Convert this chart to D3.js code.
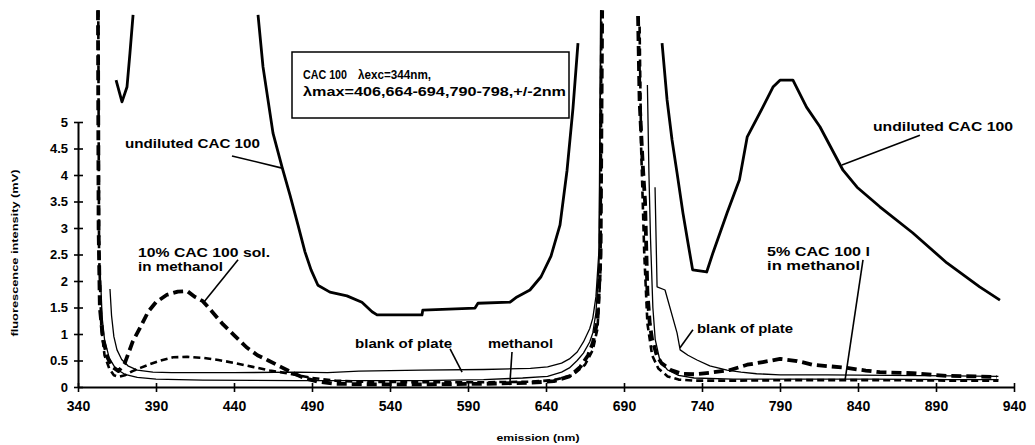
<!DOCTYPE html>
<html><head><meta charset="utf-8">
<script src="https://cdn.jsdelivr.net/npm/d3@7"></script>
<style>
html,body{margin:0;padding:0;background:#fff;}
svg{display:block;font-family:"Liberation Sans",Arial,sans-serif;font-weight:bold;}
</style></head><body>
<svg id="chart" width="1035" height="445"></svg>
<script>
// Axis ticks
const xTicks = [340, 390, 440, 490, 540, 590, 640, 690, 740, 790, 840, 890, 940];
const yTicks = [0, 0.5, 1, 1.5, 2, 2.5, 3, 3.5, 4, 4.5, 5];

// Emission spectra (wavelength nm / intensity mV); null breaks the trace
// (off-scale stretch or the gap around the second-order excitation line)
const undilutedNm = [364.4, 368.2, 371.4, 373.3, 375.3, null,
  455.4, 458.6, 465, 470.8, 475.9, 481, 485.5, 489.4, 493.8, 501.5, 512.4, 522, 528.5, 531.7,
  560.5, 561, 594.5, 596.4, 617, 621.4, 629.7, 636.8, 643.2, 649, 653.5, 657.3, 660.5, null,
  714.4, 717.6, 720.8, 724, 727.8, 731, 734, 743, 747, 756, 764, 769, 779, 785.5, 790, 798.3,
  807, 815.6, 830.4, 839.4, 854, 875, 897, 918, 931];
const undilutedMv = [5.79, 5.38, 5.66, 6.30, 7.02, null,
  7.02, 6.04, 4.79, 4.15, 3.62, 3.06, 2.55, 2.21, 1.92, 1.79, 1.72, 1.60, 1.42, 1.36,
  1.36, 1.45, 1.49, 1.58, 1.60, 1.70, 1.83, 2.08, 2.47, 3.06, 4.09, 5.26, 6.49, null,
  6.49, 5.42, 4.66, 4.04, 3.28, 2.72, 2.21, 2.17, 2.53, 3.28, 3.91, 4.72, 5.28, 5.66, 5.79, 5.79,
  5.28, 4.91, 4.09, 3.77, 3.40, 2.91, 2.34, 1.89, 1.64];

const sol10Nm = [352.8, 353.2, 354, 356, 359, 362, 366, 370, 375, 380, 385, 390, 397, 404, 410,
  415, 420, 426, 433, 440, 448, 455, 462, 470, 478, 486, 494, 505, 530, 560, 600, 630, 645, 655,
  662, 667, 670, 673, 675, 676, null,
  699, 700, 702, 703.5, 705, 706.5, 708, 711, 714, 720, 727, 735, 745, 758, 769, 779, 790, 801,
  811, 822, 833, 845, 854, 875, 897, 915, 929];
const sol10Mv = [7.11, 3.0, 1.5, 0.9, 0.55, 0.38, 0.30, 0.45, 0.85, 1.13, 1.42, 1.60, 1.74, 1.80, 1.81,
  1.70, 1.62, 1.42, 1.18, 0.98, 0.75, 0.60, 0.50, 0.38, 0.26, 0.16, 0.10, 0.06, 0.05, 0.05, 0.06, 0.08, 0.11, 0.20,
  0.38, 0.60, 0.83, 1.26, 2.5, 7.11, null,
  7.0, 5.4, 4.2, 3.5, 1.8, 1.2, 0.9, 0.6, 0.45, 0.32, 0.25, 0.24, 0.27, 0.32, 0.42, 0.47, 0.53, 0.49,
  0.42, 0.39, 0.36, 0.31, 0.28, 0.26, 0.21, 0.20, 0.19];

const sol5Nm = [353, 353.5, 355, 357, 360, 363, 366, 370, 375, 380, 386, 393, 401, 410, 420, 430,
  441, 452, 463, 476, 490, 505, 520, 560, 600, 630, 645, 657, 665, 670, 673, 675, 675.5, null,
  700, 701, 703, 705, 708, 712, 718, 725, 735, 760, 800, 850, 900, 930];
const sol5Mv = [7.11, 2.5, 1.1, 0.6, 0.35, 0.22, 0.19, 0.22, 0.30, 0.36, 0.43, 0.50, 0.56, 0.57, 0.55, 0.51,
  0.45, 0.38, 0.31, 0.25, 0.17, 0.12, 0.10, 0.09, 0.09, 0.10, 0.13, 0.22, 0.42, 0.70, 1.1, 2.2, 7.11, null,
  6.8, 4.5, 2.5, 1.2, 0.6, 0.35, 0.20, 0.14, 0.12, 0.12, 0.13, 0.13, 0.12, 0.12];

const blankNm = [360.5, 361.5, 363, 365, 368, 372, 378, 388, 400, 440, 480, 500, 520, 560, 600, 630,
  641, 650, 655, 660, 664, 668, 670, 672, 674, 675, null,
  709.9, 711.2, 716.3, 724, 726, 731, 736.8, 745, 756, 765, 775, 790, 820, 860, 900, 930];
const blankMv = [1.85, 1.35, 0.95, 0.70, 0.52, 0.40, 0.32, 0.28, 0.27, 0.27, 0.28, 0.27, 0.30, 0.32, 0.33, 0.35,
  0.38, 0.45, 0.53, 0.66, 0.85, 1.1, 1.3, 1.7, 2.6, 7.11, null,
  3.77, 1.89, 1.83, 1.02, 0.70, 0.60, 0.51, 0.40, 0.32, 0.28, 0.25, 0.23, 0.23, 0.22, 0.21, 0.20];

const methanolNm = [354.5, 355.5, 357, 360, 364, 370, 378, 390, 420, 480, 520, 560, 600, 625, 641,
  650, 655, 660, 664, 668, 670, 672, 674, 675.3, null,
  705, 706, 707, 708.5, 710, 713, 718, 725, 735, 760, 800, 850, 900, 930];
const methanolMv = [2.0, 1.3, 0.9, 0.55, 0.35, 0.24, 0.18, 0.15, 0.13, 0.12, 0.12, 0.12, 0.14, 0.17, 0.20,
  0.28, 0.36, 0.50, 0.64, 0.85, 1.02, 1.4, 2.3, 7.11, null,
  5.7, 4.0, 2.8, 1.5, 0.9, 0.5, 0.32, 0.22, 0.17, 0.15, 0.15, 0.15, 0.14, 0.14];

const series = [
  {nm: methanolNm, mv: methanolMv, width: 1.3, dash: null},
  {nm: blankNm, mv: blankMv, width: 1.3, dash: null},
  {nm: sol5Nm, mv: sol5Mv, width: 2.6, dash: "7,4"},
  {nm: sol10Nm, mv: sol10Mv, width: 3.8, dash: "10,5"},
  {nm: undilutedNm, mv: undilutedMv, width: 2.8, dash: null}
];

// Callout labels: text lines anchored at (nm, mV), leader from -> to in data units
const callouts = [
  {lines: ["undiluted CAC 100"], at: [370.1, 4.51], len: [135], from: [438.7, 4.36], to: [470.8, 4.13]},
  {lines: ["10% CAC 100 sol.", "in methanol"], at: [378.5, 2.45], len: [132, 85], from: [442.6, 2.40], to: [420.1, 1.58]},
  {lines: ["blank of plate"], at: [517.6, 0.74], len: [97], from: [578.5, 0.72], to: [586.2, 0.28]},
  {lines: ["methanol"], at: [602.8, 0.74], len: [65], from: [618.2, 0.66], to: [616.9, 0.09]},
  {lines: ["undiluted CAC  100"], at: [849.6, 4.83], len: [140], from: [879.7, 4.75], to: [829.7, 4.19]},
  {lines: ["5% CAC 100 l", "in methanol"], at: [781.7, 2.47], len: [103, 93], from: [843.2, 2.40], to: [831.7, 0.13]},
  {lines: ["blank of plate"], at: [736.8, 1.02], len: [96], from: [734.2, 1.08], to: [725.9, 0.74]}
];

const boxLine1 = ["CAC 100", "λexc=344nm,"];
const boxLine2 = "λmax=406,664-694,790-798,+/-2nm";

const svg = d3.select("#chart");
const x = d3.scaleLinear().domain([340, 940]).range([78, 1014]);
const y = d3.scaleLinear().domain([0, 5]).range([387, 122]);

// Axes
const xAxis = svg.append("g").attr("transform", `translate(0,${y(0)})`)
  .call(d3.axisBottom(x).tickValues(xTicks).tickFormat(d3.format("d")).tickSizeInner(5).tickSizeOuter(0));
xAxis.select(".domain").attr("stroke", "#000").attr("stroke-width", 2);
xAxis.selectAll(".tick line").attr("y1", -4).attr("y2", 5).attr("stroke-width", 1.6);
xAxis.selectAll(".tick text").attr("y", 14).attr("dy", "0.71em")
  .attr("font-size", 14).attr("font-weight", "bold").attr("font-family", "Liberation Sans, Arial, sans-serif").attr("fill", "#000");

const yAxis = svg.append("g").attr("transform", `translate(${x(340)},0)`)
  .call(d3.axisLeft(y).tickValues(yTicks).tickFormat(d3.format("")).tickSizeInner(5).tickSizeOuter(0));
yAxis.select(".domain").attr("stroke", "#000").attr("stroke-width", 2);
yAxis.selectAll(".tick line").attr("x1", -4).attr("x2", 5).attr("stroke-width", 1.6);
yAxis.selectAll(".tick text").attr("x", -10)
  .attr("font-size", 13).attr("font-weight", "bold").attr("font-family", "Liberation Sans, Arial, sans-serif").attr("fill", "#000");

// Axis titles
svg.append("text").attr("transform", "translate(18,253) rotate(-90)")
  .attr("text-anchor", "middle").attr("font-size", 9)
  .attr("textLength", 167).attr("lengthAdjust", "spacingAndGlyphs")
  .text("fluorescence intensity (mV)");
svg.append("text").attr("x", 538).attr("y", 441)
  .attr("text-anchor", "middle").attr("font-size", 8.5)
  .attr("textLength", 83).attr("lengthAdjust", "spacingAndGlyphs")
  .text("emission (nm)");

// Spectra
const line = d3.line().defined(d => d != null).x(d => x(d.nm)).y(d => y(d.mv));
series.forEach(s => {
  const pts = s.nm.map((nm, i) => nm == null ? null : {nm, mv: s.mv[i]});
  svg.append("path").datum(pts)
    .attr("d", line)
    .attr("fill", "none").attr("stroke", "#000")
    .attr("stroke-width", s.width)
    .attr("stroke-linejoin", "round")
    .attr("stroke-dasharray", s.dash);
});

// Callouts
callouts.forEach(c => {
  c.lines.forEach((t, i) => {
    svg.append("text").attr("x", x(c.at[0])).attr("y", y(c.at[1]) + i * 14)
      .attr("font-size", 12.5).attr("textLength", c.len[i]).attr("lengthAdjust", "spacingAndGlyphs")
      .text(t);
  });
  svg.append("line")
    .attr("x1", x(c.from[0])).attr("y1", y(c.from[1]))
    .attr("x2", x(c.to[0])).attr("y2", y(c.to[1]))
    .attr("stroke", "#000").attr("stroke-width", 1.6);
});

// Info box
const box = svg.append("g");
box.append("rect").attr("x", 292).attr("y", 52).attr("width", 277).attr("height", 66)
  .attr("fill", "#fff").attr("stroke", "#000").attr("stroke-width", 1.5);
box.append("text").attr("x", 303).attr("y", 79).attr("font-size", 12)
  .attr("textLength", 44).attr("lengthAdjust", "spacingAndGlyphs").text(boxLine1[0]);
box.append("text").attr("x", 358).attr("y", 79).attr("font-size", 12)
  .attr("textLength", 73).attr("lengthAdjust", "spacingAndGlyphs").text(boxLine1[1]);
box.append("text").attr("x", 303).attr("y", 96).attr("font-size", 12)
  .attr("textLength", 263).attr("lengthAdjust", "spacingAndGlyphs").text(boxLine2);
</script>
</body></html>
